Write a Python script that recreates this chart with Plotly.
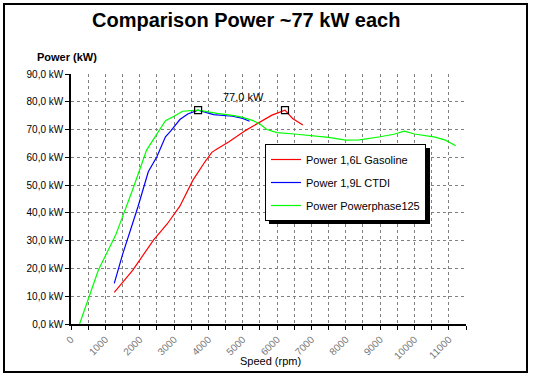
import plotly.graph_objects as go

# ---- data ----
rpm_gas = [1260, 1800, 2400, 2800, 3170, 3550, 3900, 4100, 4250, 4600, 5100, 5600, 5850, 6230, 6450, 6750]
kw_gas = [11.4, 19.4, 30.2, 36.0, 42.4, 51.8, 58.4, 61.8, 63.0, 65.6, 69.8, 73.4, 75.2, 77.0, 74.0, 71.6]

rpm_tdi = [1260, 1500, 1950, 2250, 2500, 2750, 2900, 3170, 3400, 3700, 4150, 4350, 4700, 5000, 5200]
kw_tdi = [14.6, 25.0, 42.2, 54.8, 60.2, 67.4, 69.4, 73.6, 75.6, 77.0, 75.4, 75.2, 74.8, 74.0, 73.0]

rpm_pp = [250, 800, 1300, 1800, 2200, 2750, 3000, 3250, 3700, 4250, 4750, 5000, 5300, 5500, 5700, 6000,
          6500, 7000, 7500, 8000, 8400, 9000, 9400, 9700, 10000, 10600, 10900, 11200]
kw_pp = [0.0, 19.5, 32.0, 48.5, 62.6, 73.2, 74.8, 76.6, 77.0, 75.8, 75.0, 74.4, 73.2, 72.0, 70.0, 68.9,
         68.4, 67.8, 67.2, 66.2, 66.3, 67.4, 68.3, 69.4, 68.4, 67.3, 66.2, 64.2]

series_names = ["Power 1,6L Gasoline", "Power 1,9L CTDI", "Power Powerphase125"]
series_colors = ["#FF0000", "#0000FF", "#00FF00"]

y_ticks = [0, 10, 20, 30, 40, 50, 60, 70, 80, 90]
y_ticktext = [f"{v:.1f}".replace(".", ",") + " kW" for v in y_ticks]
x_ticks = list(range(0, 11501, 500))
x_ticktext = [str(v) if v % 1000 == 0 else "" for v in x_ticks]

title_text = "Comparison Power ~77 kW each"
peak_label = "77,0 kW"

# ---- figure ----
W, H = 534, 378
L, R, T, B = 71, 68, 74, 54
pw, ph = W - L - R, H - T - B

def px(xp):
    return (xp - L) / pw

def py(yp):
    return (H - B - yp) / ph

fig = go.Figure()
for i, (xs, ys) in enumerate([(rpm_gas, kw_gas), (rpm_tdi, kw_tdi), (rpm_pp, kw_pp)]):
    fig.add_trace(go.Scatter(
        x=xs, y=ys, mode="lines", name=series_names[i],
        line=dict(color=series_colors[i], width=1.2),
        legendgroup=str(i),
    ))

# peak markers (maxima of the diesel and gasoline curves)
peaks_x, peaks_y = [], []
for xs, ys in [(rpm_tdi, kw_tdi), (rpm_gas, kw_gas)]:
    k = ys.index(max(ys))
    peaks_x.append(xs[k])
    peaks_y.append(ys[k])
fig.add_trace(go.Scatter(
    x=peaks_x, y=peaks_y, mode="markers", showlegend=False,
    marker=dict(symbol="square-open", size=7, color="black", line=dict(width=1.2, color="black")),
))

LEG_L, LEG_T, LEG_W, LEG_H = 265, 144, 161, 76

fig.update_layout(
    width=W, height=H,
    margin=dict(l=L, r=R, t=T, b=B, autoexpand=False),
    paper_bgcolor="white", plot_bgcolor="white",
    font=dict(family="Liberation Sans, Arial, sans-serif", color="black", size=10),
    showlegend=True,
    legend=dict(
        x=px(LEG_L), y=py(LEG_T), xanchor="left", yanchor="top",
        bgcolor="white", bordercolor="black", borderwidth=1,
        font=dict(size=11, family="Liberation Sans, Arial, sans-serif"),
        traceorder="grouped", tracegroupgap=4, itemwidth=30,
    ),
    xaxis=dict(
        range=[0, 11500], tickmode="array", tickvals=x_ticks, ticktext=x_ticktext,
        tickangle=-45, tickfont=dict(size=10, color="#777777"),
        showgrid=True, gridcolor="#808080", griddash="3px,3px", gridwidth=1,
        showline=True, linecolor="black", linewidth=1.5,
        ticks="outside", ticklen=4, tickcolor="black", zeroline=False,
    ),
    yaxis=dict(
        range=[0, 90], tickmode="array", tickvals=y_ticks, ticktext=y_ticktext,
        tickfont=dict(size=10, color="black"),
        showgrid=True, gridcolor="#808080", griddash="3px,3px", gridwidth=1,
        showline=True, linecolor="black", linewidth=1.5,
        ticks="outside", ticklen=4, tickcolor="black", zeroline=False,
    ),
    shapes=[
        # outer chart border
        dict(type="rect", xref="paper", yref="paper", x0=px(4), x1=px(527), y0=py(372), y1=py(4),
             line=dict(color="black", width=2), fillcolor="rgba(0,0,0,0)", layer="above"),
        # legend shadow
        dict(type="rect", xref="paper", yref="paper",
             x0=px(LEG_L + 4), x1=px(LEG_L + LEG_W + 4), y0=py(LEG_T + LEG_H + 4), y1=py(LEG_T + 4),
             line=dict(width=0), fillcolor="black", layer="above"),
    ],
    annotations=[
        dict(text=f"<b>{title_text}</b>", xref="paper", yref="paper", x=px(246), y=py(20),
             xanchor="center", yanchor="middle",
             showarrow=False, font=dict(size=20, family="Liberation Sans, Arial, sans-serif")),
        dict(text="<b>Power (kW)</b>", xref="paper", yref="paper", x=px(67), y=py(57),
             xanchor="center", yanchor="middle", showarrow=False, font=dict(size=11)),
        dict(text="Speed (rpm)", xref="paper", yref="paper", x=px(270), y=py(361),
             xanchor="center", yanchor="middle", showarrow=False, font=dict(size=11)),
        dict(text=peak_label, xref="paper", yref="paper", x=px(243), y=py(97),
             xanchor="center", yanchor="middle", showarrow=False, font=dict(size=11)),
    ],
)

fig.write_html(
    "out.html",
    config={"displayModeBar": False},
    post_script="document.body.style.margin='0';document.body.style.overflow='hidden';",
)
